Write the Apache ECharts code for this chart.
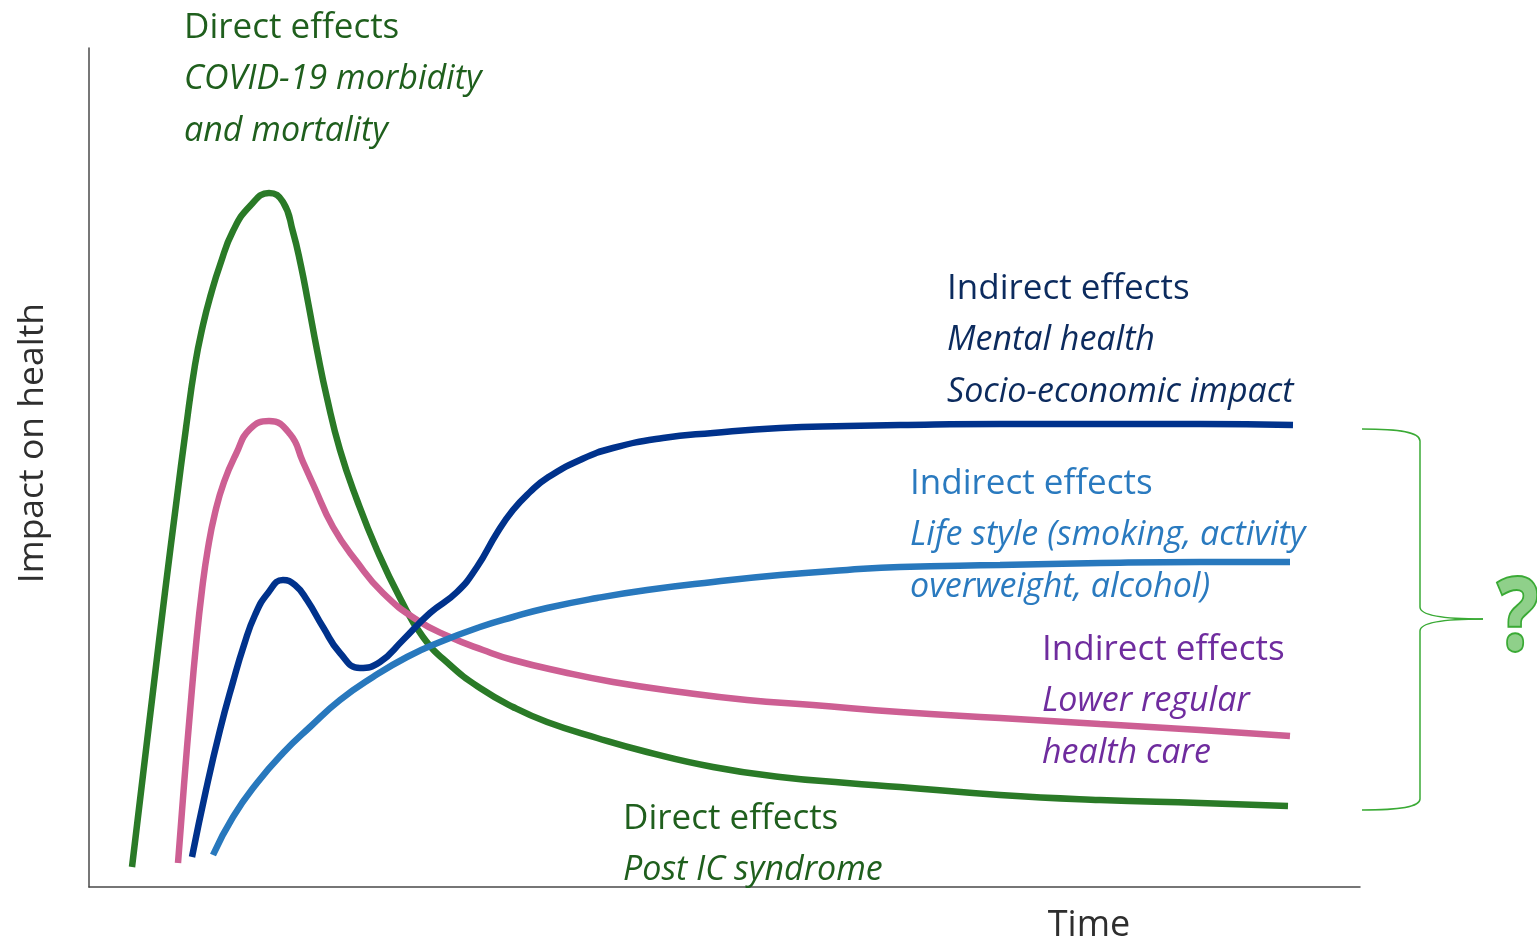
<!DOCTYPE html>
<html>
<head>
<meta charset="utf-8">
<script src="https://cdn.jsdelivr.net/npm/echarts@6/dist/echarts.min.js"></script>
<style>
html,body{margin:0;padding:0;background:#fff;}
#chart{width:1537px;height:941px;}
</style>
</head>
<body>
<div id="chart"></div>
<script>
// Conceptual curves: [time, impact] pairs (arbitrary units)
const directCovid = [[43,20],[54,112],[65,204],[76,295],[87,382],[97,459],[106,522],[114,562],[122,593],[131,622],[144,656],[161,681],[180,694],[194,685],[204,655],[212,621],[219,585],[228,537],[238,489],[251,437],[268,387],[288,337],[311,289],[334,250],[361,222],[391,199],[424,180],[458,165],[508,149],[558,135],[624,120],[691,110],[758,104],[811,100],[911,92],[1011,87],[1111,84],[1199,81]];
const lowerCare = [[89,24],[95,102],[101,175],[107,242],[113,297],[119,339],[126,374],[135,405],[147,433],[161,458],[180,466],[201,453],[214,425],[224,403],[244,360],[268,325],[294,294],[328,267],[361,250],[394,237],[424,227],[474,215],[524,205],[591,195],[658,187],[724,182],[811,175],[911,169],[1011,163],[1111,157],[1201,151]];
const mentalHealth = [[103,30],[117,97],[131,157],[144,205],[155,242],[166,272],[179,294],[194,307],[206,302],[218,287],[234,260],[251,234],[271,219],[291,225],[314,247],[341,274],[368,295],[388,320],[408,354],[424,377],[441,395],[458,409],[491,427],[524,439],[574,449],[624,454],[691,459],[758,461],[811,462],[911,463],[1011,463],[1111,463],[1204,462]];
const lifeStyle = [[124,32],[144,70],[168,104],[194,134],[221,160],[251,187],[284,210],[318,230],[351,245],[391,260],[424,270],[458,279],[508,289],[558,297],[624,305],[691,312],[758,317],[811,320],[911,322],[1011,324],[1111,325],[1201,325]];

const xAxisName = 'Time';
const yAxisName = 'Impact on health';
const labelsCovid = ['Direct effects', 'COVID-19 morbidity', 'and mortality'];
const labelsMental = ['Indirect effects', 'Mental health', 'Socio-economic impact'];
const labelsLife = ['Indirect effects', 'Life style (smoking, activity', 'overweight, alcohol)'];
const labelsCare = ['Indirect effects', 'Lower regular', 'health care'];
const labelsPostIC = ['Direct effects', 'Post IC syndrome'];

const chart = echarts.init(document.getElementById('chart'), null, {renderer: 'canvas'});

const FONT = '"Open Sans", "Noto Sans", sans-serif';
function block(lines, x, y0, color) {
  return lines.map((t, i) => ({
    type: 'text', silent: true, z: 10,
    style: {
      text: t, x: x, y: y0 + i * 51.5,
      fill: color, fontSize: i === 0 ? 35 : 34, fontFamily: FONT,
      fontStyle: i === 0 ? 'normal' : 'italic',
      align: 'left', verticalAlign: 'middle'
    }
  }));
}

function lineSeries(name, data, color) {
  return {
    name: name, type: 'line', data: data, smooth: 0.5, symbol: 'none',
    lineStyle: {color: color, width: 6.5, cap: 'butt'}, silent: true
  };
}

const BR = {stroke: '#3aaa35', lineWidth: 1.5, fill: null};
function bez(x1, y1, cx1, cy1, cx2, cy2, x2, y2) {
  return {type: 'bezierCurve', silent: true,
    shape: {x1: x1, y1: y1, cpx1: cx1, cpy1: cy1, cpx2: cx2, cpy2: cy2, x2: x2, y2: y2}, style: BR};
}
function seg(x1, y1, x2, y2) {
  return {type: 'line', silent: true, shape: {x1: x1, y1: y1, x2: x2, y2: y2}, style: BR};
}

chart.setOption({
  animation: false,
  backgroundColor: '#ffffff',
  grid: {left: 89, right: 177, top: 48, bottom: 54, containLabel: false},
  xAxis: {
    type: 'value', min: 0, max: 1271,
    axisLine: {show: true, lineStyle: {color: '#4a4a4a', width: 1.5}},
    axisTick: {show: false}, axisLabel: {show: false}, splitLine: {show: false}
  },
  yAxis: {
    type: 'value', min: 0, max: 839,
    axisLine: {show: true, lineStyle: {color: '#4a4a4a', width: 1.5}},
    axisTick: {show: false}, axisLabel: {show: false}, splitLine: {show: false}
  },
  series: [
    lineSeries('Direct effects – COVID-19', directCovid, '#2a7a27'),
    lineSeries('Indirect effects – Lower regular health care', lowerCare, '#cd5f93'),
    lineSeries('Indirect effects – Mental health', mentalHealth, '#00328c'),
    lineSeries('Indirect effects – Life style', lifeStyle, '#2878bd')
  ],
  graphic: [].concat(
    block(labelsCovid, 184, 28, '#1f5f1d'),
    block(labelsMental, 947, 289, '#0c2b5e'),
    block(labelsLife, 910, 484, '#2a7abf'),
    block(labelsCare, 1042, 650, '#6f2c9e'),
    block(labelsPostIC, 623, 819, '#1f5f1d'),
    [
      {type: 'text', silent: true, x: 33, y: 443, rotation: Math.PI / 2,
       style: {text: yAxisName, x: 0, y: 0, fill: '#2e2e2e', fontSize: 35.5, fontFamily: FONT, align: 'center', verticalAlign: 'middle'}},
      {type: 'text', silent: true,
       style: {text: xAxisName, x: 1089, y: 926, fill: '#2e2e2e', fontSize: 36, fontFamily: FONT, align: 'center', verticalAlign: 'middle'}},
      bez(1362, 429, 1400, 429, 1420, 432, 1420, 441),
      seg(1420, 441, 1420, 607),
      bez(1420, 607, 1420, 615, 1440, 619, 1483, 619),
      bez(1483, 619, 1440, 619, 1420, 623, 1420, 631),
      seg(1420, 631, 1420, 799),
      bez(1420, 799, 1420, 807, 1400, 810, 1362, 810),
      {type: 'text', silent: true, x: 1518, y: 622, scaleX: 0.85,
       style: {text: '?', x: 0, y: 0, fill: '#8fd08a', stroke: '#3aaa35', lineWidth: 4,
               fontSize: 100, fontWeight: 'bold', fontFamily: FONT, align: 'center', verticalAlign: 'middle'}}
    ]
  )
});
</script>
</body>
</html>
